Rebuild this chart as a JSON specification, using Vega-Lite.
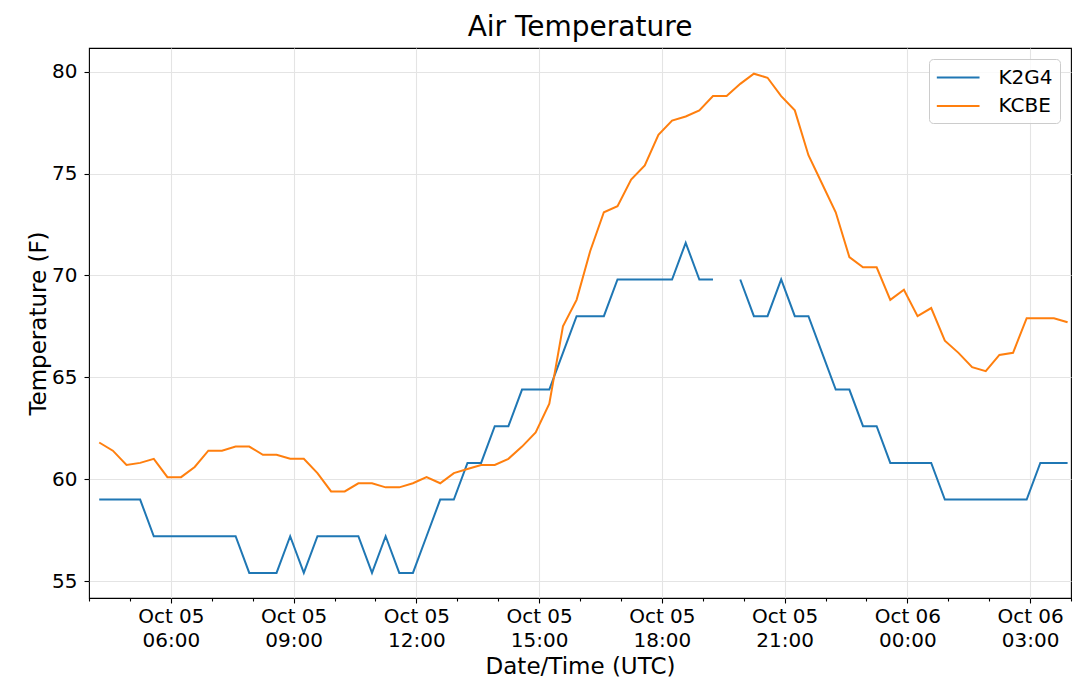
{
  "$schema": "https://vega.github.io/schema/vega-lite/v6.json",
  "width": 982,
  "height": 550,
  "autosize": {"type": "none"},
  "padding": {"left": 89, "top": 48, "right": 8, "bottom": 90},
  "title": {"text": "Air Temperature", "fontSize": 28, "font": "DejaVu Sans", "fontWeight": "normal", "color": "#000000", "anchor": "middle", "frame": "group", "baseline": "alphabetic", "offset": -16},
  "config": {
    "font": "DejaVu Sans",
    "view": {"stroke": "#000000", "strokeWidth": 1.1},
    "axis": {"labelColor": "#000000", "titleColor": "#000000", "tickColor": "#000000", "tickWidth": 1.1, "gridColor": "#e4e4e4", "gridWidth": 1.1, "domain": false, "titleFontWeight": "normal", "labelFont": "DejaVu Sans", "titleFont": "DejaVu Sans"}
  },
  "data": {"values": [
    {"time": "2020-10-05T04:15:00Z", "station": "K2G4", "temp": 59},
    {"time": "2020-10-05T04:35:00Z", "station": "K2G4", "temp": 59},
    {"time": "2020-10-05T04:55:00Z", "station": "K2G4", "temp": 59},
    {"time": "2020-10-05T05:15:00Z", "station": "K2G4", "temp": 59},
    {"time": "2020-10-05T05:35:00Z", "station": "K2G4", "temp": 57.2},
    {"time": "2020-10-05T05:55:00Z", "station": "K2G4", "temp": 57.2},
    {"time": "2020-10-05T06:15:00Z", "station": "K2G4", "temp": 57.2},
    {"time": "2020-10-05T06:35:00Z", "station": "K2G4", "temp": 57.2},
    {"time": "2020-10-05T06:55:00Z", "station": "K2G4", "temp": 57.2},
    {"time": "2020-10-05T07:15:00Z", "station": "K2G4", "temp": 57.2},
    {"time": "2020-10-05T07:35:00Z", "station": "K2G4", "temp": 57.2},
    {"time": "2020-10-05T07:55:00Z", "station": "K2G4", "temp": 55.4},
    {"time": "2020-10-05T08:15:00Z", "station": "K2G4", "temp": 55.4},
    {"time": "2020-10-05T08:35:00Z", "station": "K2G4", "temp": 55.4},
    {"time": "2020-10-05T08:55:00Z", "station": "K2G4", "temp": 57.2},
    {"time": "2020-10-05T09:15:00Z", "station": "K2G4", "temp": 55.4},
    {"time": "2020-10-05T09:35:00Z", "station": "K2G4", "temp": 57.2},
    {"time": "2020-10-05T09:55:00Z", "station": "K2G4", "temp": 57.2},
    {"time": "2020-10-05T10:15:00Z", "station": "K2G4", "temp": 57.2},
    {"time": "2020-10-05T10:35:00Z", "station": "K2G4", "temp": 57.2},
    {"time": "2020-10-05T10:55:00Z", "station": "K2G4", "temp": 55.4},
    {"time": "2020-10-05T11:15:00Z", "station": "K2G4", "temp": 57.2},
    {"time": "2020-10-05T11:35:00Z", "station": "K2G4", "temp": 55.4},
    {"time": "2020-10-05T11:55:00Z", "station": "K2G4", "temp": 55.4},
    {"time": "2020-10-05T12:15:00Z", "station": "K2G4", "temp": 57.2},
    {"time": "2020-10-05T12:35:00Z", "station": "K2G4", "temp": 59},
    {"time": "2020-10-05T12:55:00Z", "station": "K2G4", "temp": 59},
    {"time": "2020-10-05T13:15:00Z", "station": "K2G4", "temp": 60.8},
    {"time": "2020-10-05T13:35:00Z", "station": "K2G4", "temp": 60.8},
    {"time": "2020-10-05T13:55:00Z", "station": "K2G4", "temp": 62.6},
    {"time": "2020-10-05T14:15:00Z", "station": "K2G4", "temp": 62.6},
    {"time": "2020-10-05T14:35:00Z", "station": "K2G4", "temp": 64.4},
    {"time": "2020-10-05T14:55:00Z", "station": "K2G4", "temp": 64.4},
    {"time": "2020-10-05T15:15:00Z", "station": "K2G4", "temp": 64.4},
    {"time": "2020-10-05T15:35:00Z", "station": "K2G4", "temp": 66.2},
    {"time": "2020-10-05T15:55:00Z", "station": "K2G4", "temp": 68},
    {"time": "2020-10-05T16:15:00Z", "station": "K2G4", "temp": 68},
    {"time": "2020-10-05T16:35:00Z", "station": "K2G4", "temp": 68},
    {"time": "2020-10-05T16:55:00Z", "station": "K2G4", "temp": 69.8},
    {"time": "2020-10-05T17:15:00Z", "station": "K2G4", "temp": 69.8},
    {"time": "2020-10-05T17:35:00Z", "station": "K2G4", "temp": 69.8},
    {"time": "2020-10-05T17:55:00Z", "station": "K2G4", "temp": 69.8},
    {"time": "2020-10-05T18:15:00Z", "station": "K2G4", "temp": 69.8},
    {"time": "2020-10-05T18:35:00Z", "station": "K2G4", "temp": 71.6},
    {"time": "2020-10-05T18:55:00Z", "station": "K2G4", "temp": 69.8},
    {"time": "2020-10-05T19:15:00Z", "station": "K2G4", "temp": 69.8},
    {"time": "2020-10-05T19:35:00Z", "station": "K2G4", "temp": null},
    {"time": "2020-10-05T19:55:00Z", "station": "K2G4", "temp": 69.8},
    {"time": "2020-10-05T20:15:00Z", "station": "K2G4", "temp": 68},
    {"time": "2020-10-05T20:35:00Z", "station": "K2G4", "temp": 68},
    {"time": "2020-10-05T20:55:00Z", "station": "K2G4", "temp": 69.8},
    {"time": "2020-10-05T21:15:00Z", "station": "K2G4", "temp": 68},
    {"time": "2020-10-05T21:35:00Z", "station": "K2G4", "temp": 68},
    {"time": "2020-10-05T21:55:00Z", "station": "K2G4", "temp": 66.2},
    {"time": "2020-10-05T22:15:00Z", "station": "K2G4", "temp": 64.4},
    {"time": "2020-10-05T22:35:00Z", "station": "K2G4", "temp": 64.4},
    {"time": "2020-10-05T22:55:00Z", "station": "K2G4", "temp": 62.6},
    {"time": "2020-10-05T23:15:00Z", "station": "K2G4", "temp": 62.6},
    {"time": "2020-10-05T23:35:00Z", "station": "K2G4", "temp": 60.8},
    {"time": "2020-10-05T23:55:00Z", "station": "K2G4", "temp": 60.8},
    {"time": "2020-10-06T00:15:00Z", "station": "K2G4", "temp": 60.8},
    {"time": "2020-10-06T00:35:00Z", "station": "K2G4", "temp": 60.8},
    {"time": "2020-10-06T00:55:00Z", "station": "K2G4", "temp": 59},
    {"time": "2020-10-06T01:15:00Z", "station": "K2G4", "temp": 59},
    {"time": "2020-10-06T01:35:00Z", "station": "K2G4", "temp": 59},
    {"time": "2020-10-06T01:55:00Z", "station": "K2G4", "temp": 59},
    {"time": "2020-10-06T02:15:00Z", "station": "K2G4", "temp": 59},
    {"time": "2020-10-06T02:35:00Z", "station": "K2G4", "temp": 59},
    {"time": "2020-10-06T02:55:00Z", "station": "K2G4", "temp": 59},
    {"time": "2020-10-06T03:15:00Z", "station": "K2G4", "temp": 60.8},
    {"time": "2020-10-06T03:35:00Z", "station": "K2G4", "temp": 60.8},
    {"time": "2020-10-06T03:55:00Z", "station": "K2G4", "temp": 60.8},
    {"time": "2020-10-05T04:15:00Z", "station": "KCBE", "temp": 61.8},
    {"time": "2020-10-05T04:35:00Z", "station": "KCBE", "temp": 61.4},
    {"time": "2020-10-05T04:55:00Z", "station": "KCBE", "temp": 60.7},
    {"time": "2020-10-05T05:15:00Z", "station": "KCBE", "temp": 60.8},
    {"time": "2020-10-05T05:35:00Z", "station": "KCBE", "temp": 61.0},
    {"time": "2020-10-05T05:55:00Z", "station": "KCBE", "temp": 60.1},
    {"time": "2020-10-05T06:15:00Z", "station": "KCBE", "temp": 60.1},
    {"time": "2020-10-05T06:35:00Z", "station": "KCBE", "temp": 60.6},
    {"time": "2020-10-05T06:55:00Z", "station": "KCBE", "temp": 61.4},
    {"time": "2020-10-05T07:15:00Z", "station": "KCBE", "temp": 61.4},
    {"time": "2020-10-05T07:35:00Z", "station": "KCBE", "temp": 61.6},
    {"time": "2020-10-05T07:55:00Z", "station": "KCBE", "temp": 61.6},
    {"time": "2020-10-05T08:15:00Z", "station": "KCBE", "temp": 61.2},
    {"time": "2020-10-05T08:35:00Z", "station": "KCBE", "temp": 61.2},
    {"time": "2020-10-05T08:55:00Z", "station": "KCBE", "temp": 61.0},
    {"time": "2020-10-05T09:15:00Z", "station": "KCBE", "temp": 61.0},
    {"time": "2020-10-05T09:35:00Z", "station": "KCBE", "temp": 60.3},
    {"time": "2020-10-05T09:55:00Z", "station": "KCBE", "temp": 59.4},
    {"time": "2020-10-05T10:15:00Z", "station": "KCBE", "temp": 59.4},
    {"time": "2020-10-05T10:35:00Z", "station": "KCBE", "temp": 59.8},
    {"time": "2020-10-05T10:55:00Z", "station": "KCBE", "temp": 59.8},
    {"time": "2020-10-05T11:15:00Z", "station": "KCBE", "temp": 59.6},
    {"time": "2020-10-05T11:35:00Z", "station": "KCBE", "temp": 59.6},
    {"time": "2020-10-05T11:55:00Z", "station": "KCBE", "temp": 59.8},
    {"time": "2020-10-05T12:15:00Z", "station": "KCBE", "temp": 60.1},
    {"time": "2020-10-05T12:35:00Z", "station": "KCBE", "temp": 59.8},
    {"time": "2020-10-05T12:55:00Z", "station": "KCBE", "temp": 60.3},
    {"time": "2020-10-05T13:15:00Z", "station": "KCBE", "temp": 60.5},
    {"time": "2020-10-05T13:35:00Z", "station": "KCBE", "temp": 60.7},
    {"time": "2020-10-05T13:55:00Z", "station": "KCBE", "temp": 60.7},
    {"time": "2020-10-05T14:15:00Z", "station": "KCBE", "temp": 61.0},
    {"time": "2020-10-05T14:35:00Z", "station": "KCBE", "temp": 61.6},
    {"time": "2020-10-05T14:55:00Z", "station": "KCBE", "temp": 62.3},
    {"time": "2020-10-05T15:15:00Z", "station": "KCBE", "temp": 63.7},
    {"time": "2020-10-05T15:35:00Z", "station": "KCBE", "temp": 67.5},
    {"time": "2020-10-05T15:55:00Z", "station": "KCBE", "temp": 68.8},
    {"time": "2020-10-05T16:15:00Z", "station": "KCBE", "temp": 71.2},
    {"time": "2020-10-05T16:35:00Z", "station": "KCBE", "temp": 73.1},
    {"time": "2020-10-05T16:55:00Z", "station": "KCBE", "temp": 73.4},
    {"time": "2020-10-05T17:15:00Z", "station": "KCBE", "temp": 74.7},
    {"time": "2020-10-05T17:35:00Z", "station": "KCBE", "temp": 75.4},
    {"time": "2020-10-05T17:55:00Z", "station": "KCBE", "temp": 76.9},
    {"time": "2020-10-05T18:15:00Z", "station": "KCBE", "temp": 77.6},
    {"time": "2020-10-05T18:35:00Z", "station": "KCBE", "temp": 77.8},
    {"time": "2020-10-05T18:55:00Z", "station": "KCBE", "temp": 78.1},
    {"time": "2020-10-05T19:15:00Z", "station": "KCBE", "temp": 78.8},
    {"time": "2020-10-05T19:35:00Z", "station": "KCBE", "temp": 78.8},
    {"time": "2020-10-05T19:55:00Z", "station": "KCBE", "temp": 79.4},
    {"time": "2020-10-05T20:15:00Z", "station": "KCBE", "temp": 79.9},
    {"time": "2020-10-05T20:35:00Z", "station": "KCBE", "temp": 79.7},
    {"time": "2020-10-05T20:55:00Z", "station": "KCBE", "temp": 78.8},
    {"time": "2020-10-05T21:15:00Z", "station": "KCBE", "temp": 78.1},
    {"time": "2020-10-05T21:35:00Z", "station": "KCBE", "temp": 75.9},
    {"time": "2020-10-05T21:55:00Z", "station": "KCBE", "temp": 74.5},
    {"time": "2020-10-05T22:15:00Z", "station": "KCBE", "temp": 73.1},
    {"time": "2020-10-05T22:35:00Z", "station": "KCBE", "temp": 70.9},
    {"time": "2020-10-05T22:55:00Z", "station": "KCBE", "temp": 70.4},
    {"time": "2020-10-05T23:15:00Z", "station": "KCBE", "temp": 70.4},
    {"time": "2020-10-05T23:35:00Z", "station": "KCBE", "temp": 68.8},
    {"time": "2020-10-05T23:55:00Z", "station": "KCBE", "temp": 69.3},
    {"time": "2020-10-06T00:15:00Z", "station": "KCBE", "temp": 68.0},
    {"time": "2020-10-06T00:35:00Z", "station": "KCBE", "temp": 68.4},
    {"time": "2020-10-06T00:55:00Z", "station": "KCBE", "temp": 66.8},
    {"time": "2020-10-06T01:15:00Z", "station": "KCBE", "temp": 66.2},
    {"time": "2020-10-06T01:35:00Z", "station": "KCBE", "temp": 65.5},
    {"time": "2020-10-06T01:55:00Z", "station": "KCBE", "temp": 65.3},
    {"time": "2020-10-06T02:15:00Z", "station": "KCBE", "temp": 66.1},
    {"time": "2020-10-06T02:35:00Z", "station": "KCBE", "temp": 66.2},
    {"time": "2020-10-06T02:55:00Z", "station": "KCBE", "temp": 67.9},
    {"time": "2020-10-06T03:15:00Z", "station": "KCBE", "temp": 67.9},
    {"time": "2020-10-06T03:35:00Z", "station": "KCBE", "temp": 67.9},
    {"time": "2020-10-06T03:55:00Z", "station": "KCBE", "temp": 67.7}
  ]},
  "layer": [
    {
      "mark": {"type": "line", "strokeWidth": 2},
      "encoding": {
        "x": {
          "field": "time", "type": "temporal",
          "scale": {"type": "utc", "domain": [1601870400000, 1601956800000], "nice": false},
          "axis": {
            "orient": "bottom",
            "title": "Date/Time (UTC)", "titleFontSize": 23, "titlePadding": 5,
            "values": [1601877600000, 1601888400000, 1601899200000, 1601910000000, 1601920800000, 1601931600000, 1601942400000, 1601953200000],
            "labelExpr": "[utcFormat(datum.value, '%b %d'), utcFormat(datum.value, '%H:%M')]",
            "labelFontSize": 20, "labelLineHeight": 24, "labelPadding": 3, "labelOverlap": false, "labelFlush": false, "labelBound": false,
            "tickSize": 5
          }
        },
        "y": {
          "field": "temp", "type": "quantitative",
          "scale": {"domain": [54.17, 81.16], "nice": false, "zero": false},
          "axis": {"title": "Temperature (F)", "titleFontSize": 23, "titlePadding": 1, "values": [55, 60, 65, 70, 75, 80], "labelFontSize": 20, "tickSize": 5, "labelPadding": 7}
        },
        "color": {
          "field": "station", "type": "nominal",
          "scale": {"domain": ["K2G4", "KCBE"], "range": ["#1f77b4", "#ff7f0e"]},
          "legend": {"title": null, "orient": "top-right", "offset": 11, "labelFontSize": 20, "labelFont": "DejaVu Sans", "labelColor": "#000000", "symbolType": "M-1,0H3", "symbolSize": 456, "symbolStrokeWidth": 2, "labelOffset": 39, "padding": 6.5, "rowPadding": 6.5, "strokeColor": "#cccccc", "fillColor": "rgba(255,255,255,0.8)", "cornerRadius": 4}
        }
      }
    },
    {
      "data": {"values": []},
      "mark": {"type": "rule"},
      "encoding": {
        "x": {
          "field": "time", "type": "temporal",
          "axis": {
            "orient": "bottom", "title": null, "labels": false, "grid": false, "domain": false, "tickSize": 3,
            "values": [1601870400000, 1601874000000, 1601881200000, 1601884800000, 1601892000000, 1601895600000, 1601902800000, 1601906400000, 1601913600000, 1601917200000, 1601924400000, 1601928000000, 1601935200000, 1601938800000, 1601946000000, 1601949600000, 1601956800000]
          }
        }
      }
    }
  ],
  "resolve": {"axis": {"x": "independent"}}
}
